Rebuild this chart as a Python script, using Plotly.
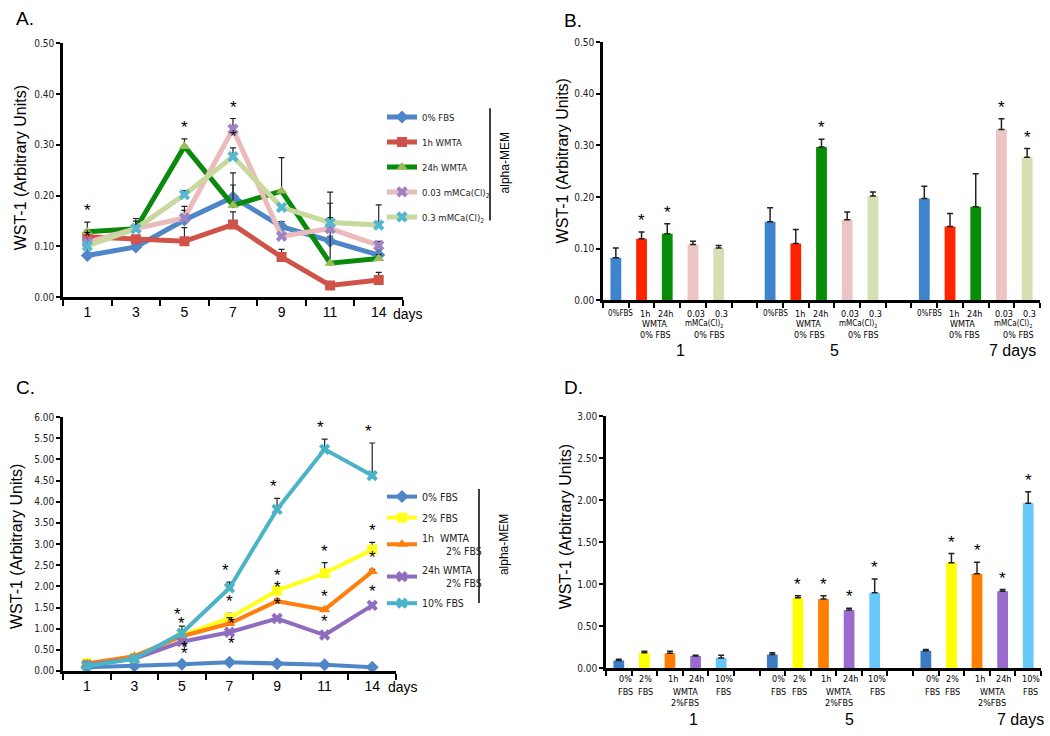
import plotly.graph_objects as go

W, H = 1050, 736

# ---------------- data ----------------
LINE_DAYS = ["1", "3", "5", "7", "9", "11", "14"]
BAR_DAY_INDEX = [0, 2, 3]          # days 1, 5, 7 taken from the time course
BAR_GROUP_LABELS = ["1", "5", "7 days"]

# Panel A (WST-1, 0% FBS media)
A_NAMES = ["0% FBS", "1h WMTA", "24h WMTA", "0.03 mMCa(Cl)<sub>2</sub>", "0.3 mMCa(Cl)<sub>2</sub>"]
A_FBS0 = [0.082, 0.099, 0.152, 0.197, 0.139, 0.110, 0.083]
A_WMTA1H = [0.119, 0.114, 0.110, 0.143, 0.079, 0.023, 0.034]
A_WMTA24H = [0.129, 0.135, 0.297, 0.181, 0.209, 0.067, 0.076]
A_CA003 = [0.108, 0.135, 0.156, 0.331, 0.120, 0.135, 0.102]
A_CA03 = [0.101, 0.135, 0.202, 0.277, 0.177, 0.147, 0.142]
A_FBS0_ERR = [0.019, 0.005, 0.027, 0.024, 0.010, 0.010, 0.010]
A_WMTA1H_ERR = [0.013, 0.005, 0.027, 0.025, 0.015, 0.005, 0.015]
A_WMTA24H_ERR = [0.019, 0.020, 0.015, 0.064, 0.066, 0.140, 0.008]
A_CA003_ERR = [0.006, 0.005, 0.015, 0.021, 0.005, 0.050, 0.008]
A_CA03_ERR = [0.005, 0.015, 0.008, 0.017, 0.005, 0.010, 0.040]
A_STARS = [(1, 0), (2, 0), (2, 2), (3, 3), (4, 3)]   # (series, day index)
A_STAR_ON = [(1, 0)]

# Panel C (WST-1, 2% FBS media)
C_NAMES = ["0% FBS", "2% FBS", "1h  WMTA<br>        2% FBS", "24h WMTA<br>        2% FBS", "10% FBS"]
C_FBS0 = [0.090, 0.120, 0.160, 0.206, 0.170, 0.150, 0.090]
C_FBS2 = [0.183, 0.310, 0.837, 1.254, 1.900, 2.310, 2.870]
C_WMTA1H = [0.175, 0.350, 0.822, 1.122, 1.650, 1.450, 2.350]
C_WMTA24H = [0.144, 0.290, 0.690, 0.915, 1.240, 0.850, 1.550]
C_FBS10 = [0.120, 0.290, 0.896, 1.963, 3.820, 5.240, 4.620]
C_FBS0_ERR = [0.015, 0.020, 0.023, 0.016, 0.020, 0.020, 0.020]
C_FBS2_ERR = [0.017, 0.030, 0.024, 0.110, 0.080, 0.250, 0.170]
C_WMTA1H_ERR = [0.025, 0.030, 0.039, 0.138, 0.050, 0.050, 0.050]
C_WMTA24H_ERR = [0.008, 0.020, 0.023, 0.020, 0.050, 0.050, 0.050]
C_FBS10_ERR = [0.032, 0.030, 0.164, 0.137, 0.260, 0.240, 0.770]
C_STARS = [(s, d) for d in (2, 3, 4, 5, 6) for s in (1, 2, 3, 4)]
D_STARS = [(s, d) for d in (2, 3) for s in (1, 2, 3, 4)]
# where a star sits relative to its point in panel C (default: above the error bar)
C_STAR_BELOW = [(2, 2), (3, 2), (3, 3)]
C_STAR_ON = [(2, 3)]

A_VALS = [A_FBS0, A_WMTA1H, A_WMTA24H, A_CA003, A_CA03]
A_ERRS = [A_FBS0_ERR, A_WMTA1H_ERR, A_WMTA24H_ERR, A_CA003_ERR, A_CA03_ERR]
C_VALS = [C_FBS0, C_FBS2, C_WMTA1H, C_WMTA24H, C_FBS10]
C_ERRS = [C_FBS0_ERR, C_FBS2_ERR, C_WMTA1H_ERR, C_WMTA24H_ERR, C_FBS10_ERR]

# ---------------- styles ----------------
A_LINE_COLORS = ["#4F86C6", "#D0534A", "#0A8A0A", "#EBBABA", "#C8D99E"]
A_MARKER_COLORS = ["#4F86C6", "#D0534A", "#9BBB59", "#9C83C4", "#55B8D0"]
A_SYMBOLS = ["diamond", "square", "triangle-up", "x", "x"]
B_COLORS = ["#3D84CC", "#FF2400", "#078C07", "#ECC4C4", "#D4DFB3"]
C_LINE_COLORS = ["#4F86C6", "#FFFF1A", "#FF7F0E", "#8E6CBF", "#4BB3C8"]
C_SYMBOLS = ["diamond", "square", "triangle-up", "x", "x"]
D_COLORS = ["#3B7CC4", "#FFFF00", "#FF7F00", "#9A6BCC", "#66C8F8"]

NARROW = "Liberation Sans Narrow, DejaVu Sans Condensed, Liberation Sans, sans-serif"
SANS = "Liberation Sans, Arial, sans-serif"


def px(x):
    return x / W


def py(y):
    return 1 - y / H


fig = go.Figure()

# ---- Panel A lines ----
for i, name in enumerate(A_NAMES):
    fig.add_trace(go.Scatter(
        x=LINE_DAYS, y=A_VALS[i], name=name, mode="lines+markers",
        line=dict(color=A_LINE_COLORS[i], width=5),
        marker=dict(symbol=A_SYMBOLS[i], color=A_MARKER_COLORS[i], size=10,
                    line=dict(width=0)),
        error_y=dict(type="data", symmetric=False, array=A_ERRS[i],
                     arrayminus=[0] * len(A_ERRS[i]), color="#222", thickness=1.2, width=3),
        xaxis="x", yaxis="y", legend="legend", legendgroup="a" + str(i),
    ))

# ---- Panel B bars ----
for i in range(5):
    xs = [6 * g + i for g in range(3)]
    ys = [A_VALS[i][d] for d in BAR_DAY_INDEX]
    es = [A_ERRS[i][d] for d in BAR_DAY_INDEX]
    fig.add_trace(go.Bar(
        x=xs, y=ys, width=0.42, marker=dict(color=B_COLORS[i], line=dict(width=0)),
        error_y=dict(type="data", symmetric=False, array=es, arrayminus=[0] * 3,
                     color="#222", thickness=1.5, width=3),
        xaxis="x2", yaxis="y2", showlegend=False,
    ))

# ---- Panel C lines ----
for i, name in enumerate(C_NAMES):
    fig.add_trace(go.Scatter(
        x=LINE_DAYS, y=C_VALS[i], name=name, mode="lines+markers",
        line=dict(color=C_LINE_COLORS[i], width=4),
        marker=dict(symbol=C_SYMBOLS[i], color=C_LINE_COLORS[i], size=10,
                    line=dict(width=0)),
        error_y=dict(type="data", symmetric=False, array=C_ERRS[i],
                     arrayminus=[0] * len(C_ERRS[i]), color="#222", thickness=1.2, width=3),
        xaxis="x3", yaxis="y3", legend="legend2", legendgroup="c" + str(i),
    ))

# ---- Panel D bars ----
for i in range(5):
    xs = [6 * g + i for g in range(3)]
    ys = [C_VALS[i][d] for d in BAR_DAY_INDEX]
    es = [C_ERRS[i][d] for d in BAR_DAY_INDEX]
    fig.add_trace(go.Bar(
        x=xs, y=ys, width=0.42, marker=dict(color=D_COLORS[i], line=dict(width=0)),
        error_y=dict(type="data", symmetric=False, array=es, arrayminus=[0] * 3,
                     color="#222", thickness=1.5, width=3),
        xaxis="x4", yaxis="y4", showlegend=False,
    ))

# ---------------- axes ----------------
axis_common = dict(showline=True, linecolor="black", linewidth=2.5, ticks="outside",
                   tickcolor="black", tickwidth=2, showgrid=False, zeroline=False)

bar_ticks = [k - 0.5 for k in range(18)]

fig.update_layout(
    width=W, height=H, margin=dict(l=0, r=0, t=0, b=0),
    paper_bgcolor="white", plot_bgcolor="white",
    xaxis=dict(domain=[px(63), px(403)], type="category", anchor="y",
               tickson="boundaries", ticklen=6, range=[-0.5, 6.5],
               tickvals=LINE_DAYS, ticktext=LINE_DAYS,
               tickfont=dict(family=SANS, size=14, color="black"), **axis_common),
    yaxis=dict(domain=[py(296), py(38)], anchor="x", range=[0, 0.5], dtick=0.1,
               tickformat=".2f", ticklen=4,
               tickfont=dict(family=NARROW, size=10, color="#222"), **axis_common),
    xaxis2=dict(domain=[px(603), px(1040)], anchor="y2", range=[-0.5, 16.5],
                tickvals=bar_ticks, showticklabels=False, ticklen=5,
                **axis_common),
    yaxis2=dict(domain=[py(299), py(37)], anchor="x2", range=[0, 0.5], dtick=0.1,
                tickformat=".2f", ticklen=4,
                tickfont=dict(family=NARROW, size=10, color="#222"), **axis_common),
    xaxis3=dict(domain=[px(63), px(396)], type="category", anchor="y3",
                tickson="boundaries", ticklen=6, range=[-0.5, 6.5],
                tickvals=LINE_DAYS, ticktext=LINE_DAYS,
                tickfont=dict(family=SANS, size=14, color="black"), **axis_common),
    yaxis3=dict(domain=[py(676), py(418)], anchor="x3", range=[0, 6], dtick=0.5,
                tickformat=".2f", ticklen=4,
                tickfont=dict(family=NARROW, size=10, color="#222"), **axis_common),
    xaxis4=dict(domain=[px(606), px(1041)], anchor="y4", range=[-0.5, 16.5],
                tickvals=bar_ticks, showticklabels=False, ticklen=5,
                **axis_common),
    yaxis4=dict(domain=[py(673), py(417)], anchor="x4", range=[0, 3], dtick=0.5,
                tickformat=".2f", ticklen=4,
                tickfont=dict(family=NARROW, size=10, color="#222"), **axis_common),
    legend=dict(x=px(382), y=py(98), xanchor="left", yanchor="top",
                font=dict(family=NARROW, size=9.5, color="#222"),
                tracegroupgap=6, itemwidth=30, bgcolor="rgba(0,0,0,0)"),
    legend2=dict(x=px(382), y=py(484), xanchor="left", yanchor="top",
                 font=dict(family=NARROW, size=10.5, color="#222"),
                 tracegroupgap=2, itemwidth=30, bgcolor="rgba(0,0,0,0)"),
    showlegend=True,
)

ann = []


def text(x, y, s, size=12, family=SANS, xanchor="center", yanchor="middle",
         xref="paper", yref="paper", angle=0, color="black", xshift=0):
    ann.append(dict(x=x, y=y, text=s, xref=xref, yref=yref, showarrow=False,
                    xanchor=xanchor, yanchor=yanchor, textangle=angle, xshift=xshift,
                    font=dict(family=family, size=size, color=color)))


# panel letters
text(px(14), py(0), "A.", size=19, xanchor="left", yanchor="top")
text(px(562), py(2), "B.", size=19, xanchor="left", yanchor="top")
text(px(14), py(388), "C.", size=19, xanchor="left")
text(px(562), py(388), "D.", size=19, xanchor="left")

# y-axis titles
text(px(20), py(165), "WST-1 (Arbitrary Units)", size=16, angle=-90)
text(px(562), py(158), "WST-1 (Arbitrary Units)", size=16, angle=-90)
text(px(16), py(550), "WST-1 (Arbitrary Units)", size=16, angle=-90)
text(px(565), py(530), "WST-1 (Arbitrary Units)", size=16, angle=-90)

# "days" after 14
text(px(391), py(313), "days", size=14, xanchor="left")
text(px(386), py(692), "days", size=14, xanchor="left")

# alpha-MEM brackets
fig.add_shape(type="line", xref="paper", yref="paper", x0=px(490), x1=px(490),
              y0=py(104), y1=py(218), line=dict(color="black", width=1.5))
fig.add_shape(type="line", xref="paper", yref="paper", x0=px(479), x1=px(479),
              y0=py(491), y1=py(607), line=dict(color="black", width=1.5))
text(px(505), py(160), "alpha-MEM", size=12, angle=-90)
text(px(504), py(548), "alpha-MEM", size=12, angle=-90)

# stars on line charts (category axes: x given as category index)
for s, d in A_STARS:
    if (s, d) in A_STAR_ON:
        text(d, A_VALS[s][d], "*", size=17, xref="x", yref="y", yanchor="middle")
    else:
        text(d, A_VALS[s][d] + A_ERRS[s][d], "*", size=17,
             xref="x", yref="y", yanchor="bottom")
for s, d in C_STARS:
    if (s, d) in C_STAR_BELOW:
        text(d + 0.05, C_VALS[s][d], "*", size=17, xref="x3", yref="y3", yanchor="top")
    elif (s, d) in C_STAR_ON:
        text(d + 0.05, C_VALS[s][d], "*", size=17, xref="x3", yref="y3", yanchor="middle")
    else:
        text(d, C_VALS[s][d] + C_ERRS[s][d], "*", size=17,
             xref="x3", yref="y3", yanchor="bottom", xshift=-4 if s == 4 else 0)

# stars on bar charts
for s, d in A_STARS:
    g = BAR_DAY_INDEX.index(d)
    text(6 * g + s, A_VALS[s][d] + A_ERRS[s][d], "*", size=17,
         xref="x2", yref="y2", yanchor="bottom")
for s, d in D_STARS:
    g = BAR_DAY_INDEX.index(d)
    text(6 * g + s, C_VALS[s][d] + C_ERRS[s][d], "*", size=17,
         xref="x4", yref="y4", yanchor="bottom")

# bar sub-labels, panel B
for g in range(3):
    base = 6 * g
    text(base + 0.2, py(313), "0%FBS", size=8, family=NARROW, xref="x2")
    text(base + 1.15, py(313), "1h", size=9, family=NARROW, xref="x2")
    text(base + 1.95, py(313), "24h", size=9, family=NARROW, xref="x2")
    text(base + 1.5, py(323), "WMTA", size=9, family=NARROW, xref="x2")
    text(base + 1.55, py(334), "0% FBS", size=9, family=NARROW, xref="x2")
    text(base + 3.1, py(313), "0.03", size=9, family=NARROW, xref="x2")
    text(base + 4.1, py(313), "0.3", size=9, family=NARROW, xref="x2")
    text(base + 3.45, py(323), "mMCa(Cl)<sub>2</sub>", size=8, family=NARROW, xref="x2")
    text(base + 3.65, py(334), "0% FBS", size=9, family=NARROW, xref="x2")
text(2.5, py(350), BAR_GROUP_LABELS[0], size=16, xref="x2")
text(8.5, py(350), BAR_GROUP_LABELS[1], size=16, xref="x2")
text(14.45, py(350), BAR_GROUP_LABELS[2], size=16, xref="x2", xanchor="left")

# bar sub-labels, panel D
for g in range(3):
    base = 6 * g
    text(base + 0.25, py(684), "0%", size=9, family=NARROW, xref="x4")
    text(base + 0.25, py(697), "FBS", size=9, family=NARROW, xref="x4")
    text(base + 1.05, py(684), "2%", size=9, family=NARROW, xref="x4")
    text(base + 1.05, py(697), "FBS", size=9, family=NARROW, xref="x4")
    text(base + 2.1, py(684), "1h", size=9, family=NARROW, xref="x4")
    text(base + 3.05, py(684), "24h", size=9, family=NARROW, xref="x4")
    text(base + 2.6, py(697), "WMTA", size=9, family=NARROW, xref="x4")
    text(base + 2.6, py(709), "2%FBS", size=9, family=NARROW, xref="x4")
    text(base + 4.1, py(684), "10%", size=9, family=NARROW, xref="x4")
    text(base + 4.1, py(697), "FBS", size=9, family=NARROW, xref="x4")
text(2.9, py(725), BAR_GROUP_LABELS[0], size=16, xref="x4")
text(9.0, py(725), BAR_GROUP_LABELS[1], size=16, xref="x4")
text(14.7, py(725), BAR_GROUP_LABELS[2], size=16, xref="x4", xanchor="left")

fig.update_layout(annotations=ann)

fig.write_html("out.html", config={"displayModeBar": False},
               post_script="document.body.style.margin='0';")
